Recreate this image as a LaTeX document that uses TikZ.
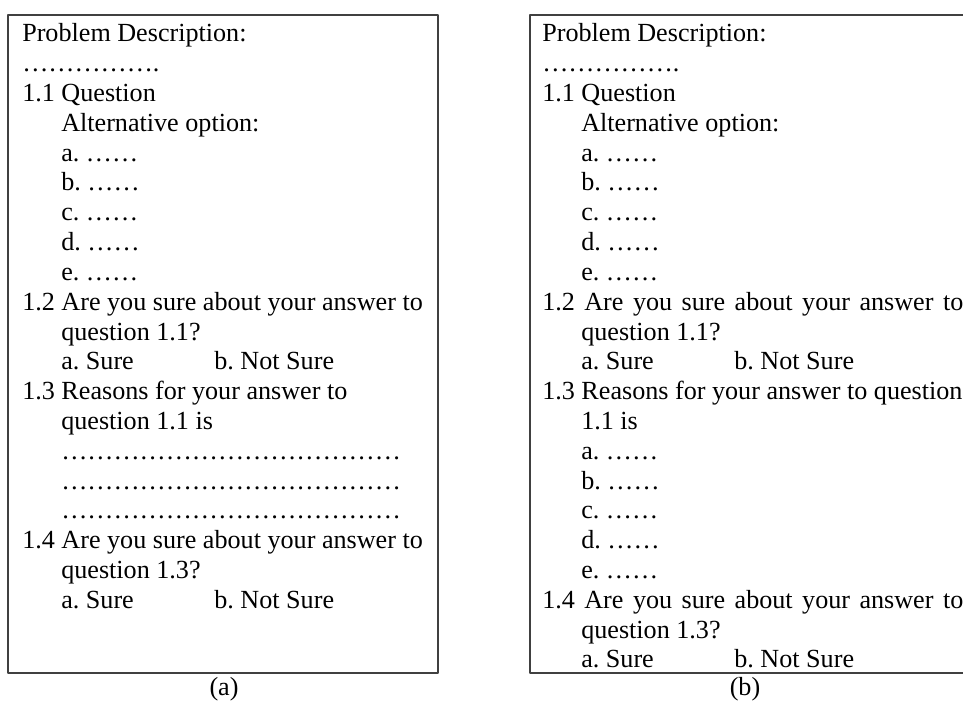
\documentclass[tikz,border=0pt]{standalone}
\usepackage{fontspec}
\setmainfont{Liberation Serif}
\frenchspacing
\newcommand{\optdots}{……}
\newcommand{\longdots}{\optdots\optdots\optdots\optdots\optdots\optdots…}
\newcommand{\sureline}{\makebox[114.8pt][l]{a. Sure}b. Not Sure}
\newcommand{\just}[1]{\makebox[315.8pt][s]{#1}}
\begin{document}
\begin{tikzpicture}[x=0.75pt,y=-0.75pt, line join=round, font=\fontsize{19.6}{22.35}\selectfont,
	frame/.style={draw=black!75,line width=1.1pt},
	txt/.style={anchor=base west,inner sep=0pt}]
		\def\lsp{29.8} \def\ind{39}
		\useasboundingbox (0,0) rectangle (963,702);
		%\draw[gray!40] (0,0) grid[step=50] (963,702);
		% frames
		\draw[frame] (8,15) rectangle (438,673);
		\draw[frame] (530,15) rectangle (970,673);
		% questionnaire (a)
		\foreach \d/\t [count=\i] in {0/Problem Description:, 0/\optdots\optdots…., 0/1.1 Question, 1/Alternative option:,
			1/a. \optdots, 1/b. \optdots, 1/c. \optdots, 1/d. \optdots, 1/e. \optdots,
			0/1.2 Are you sure about your answer to, 1/question 1.1?, 1/\sureline,
			0/1.3 Reasons for your answer to, 1/question 1.1 is,
			1/\longdots, 1/\longdots, 1/\longdots,
			0/1.4 Are you sure about your answer to, 1/question 1.3?, 1/\sureline}
			\node[txt] (qa\i) at ({22+\ind*\d},{42+\lsp*(\i-1)}) {\t};
		% questionnaire (b)
		\foreach \d/\t [count=\i] in {0/Problem Description:, 0/\optdots\optdots…., 0/1.1 Question, 1/Alternative option:,
			1/a. \optdots, 1/b. \optdots, 1/c. \optdots, 1/d. \optdots, 1/e. \optdots,
			0/{\just{1.2 Are you sure about your answer to}}, 1/question 1.1?, 1/\sureline,
			0/1.3 Reasons for your answer to question, 1/1.1 is,
			1/a. \optdots, 1/b. \optdots, 1/c. \optdots, 1/d. \optdots, 1/e. \optdots,
			0/{\just{1.4 Are you sure about your answer to}}, 1/question 1.3?, 1/\sureline}
			\node[txt] (qb\i) at ({542+\ind*\d},{42+\lsp*(\i-1)}) {\t};
		% captions
		\node[txt,anchor=base] (capa) at (224,695) {(a)};
		\node[txt,anchor=base] (capb) at (745,695) {(b)};
		\end{tikzpicture}
\end{document}
